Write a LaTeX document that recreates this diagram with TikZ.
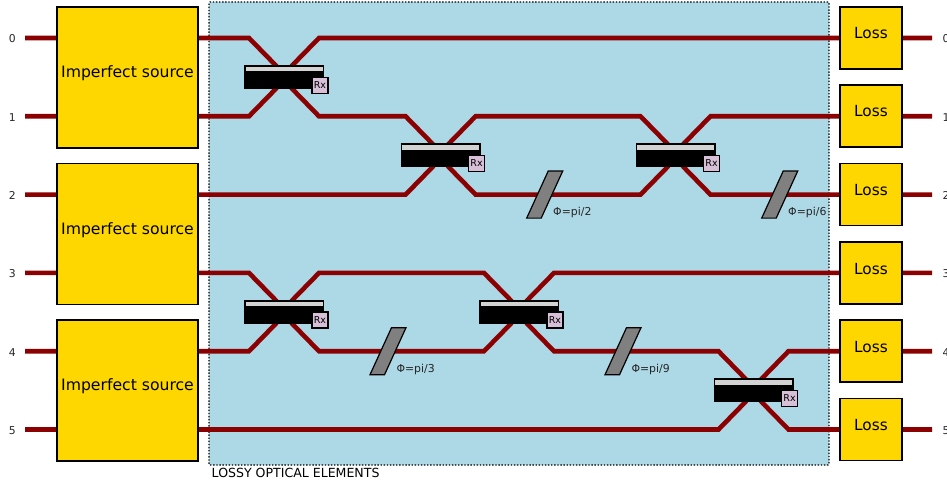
\documentclass[tikz,border=0pt]{standalone}
\usepackage{fontspec}
\setmainfont{DejaVu Sans}
\definecolor{region}{RGB}{173,216,230}
\definecolor{wirered}{RGB}{139,0,0}
\definecolor{boxgold}{RGB}{255,215,0}
\definecolor{rxpink}{RGB}{216,191,216}
\definecolor{barlight}{RGB}{211,211,211}
\definecolor{shifter}{RGB}{128,128,128}
\begin{document}
\begin{tikzpicture}[x=1pt, y=-1pt, font=\fontsize{11}{13}\selectfont,
  lossy/.style={draw=black, dash pattern=on 1.4pt off 1.7pt, line width=1.3pt, fill=region, rounded corners=1pt, minimum width=620pt, minimum height=463pt, inner sep=0pt},
  wire/.style={draw=wirered, line width=4.6pt, line join=miter},
  src/.style={draw=black, line width=1.4pt, fill=boxgold, minimum width=141pt, minimum height=141pt, inner sep=0pt, text height=12pt, text depth=11.5pt, font=\fontsize{15.65}{18}\selectfont},
  lossbox/.style={draw=black, line width=1.4pt, fill=boxgold, minimum width=62pt, minimum height=62pt, inner sep=0pt, text height=12pt, text depth=10pt, font=\fontsize{15.3}{18}\selectfont},
  split/.style={draw=black, line width=1pt, fill=black, minimum width=79pt, minimum height=23pt, inner sep=0pt},
  bar/.style={fill=barlight, minimum width=77pt, minimum height=4.6pt, inner sep=0pt},
  rx/.style={draw=black, line width=1.2pt, fill=rxpink, minimum width=16pt, minimum height=16pt, inner sep=0pt, font=\fontsize{9.5}{11}\selectfont},
  phase/.style={draw=black, line width=1.2pt, fill=shifter, xslant=0.457, minimum width=14.5pt, minimum height=47pt, inner sep=0pt},
  modelab/.style={font=\fontsize{10.8}{12}\selectfont, text=black!85, inner sep=0pt}]
\useasboundingbox (0,0) rectangle (947,481);

\node[lossy] (box) at (519,233.5) {};
\node[anchor=west, inner sep=0pt, font=\fontsize{12.55}{14}\selectfont] (boxname) at (211.5,473) {LOSSY OPTICAL ELEMENTS};

% mode ends
\foreach \m/\y in {0/38,1/116.3,2/194.6,3/272.9,4/351.2,5/429.5} {
  \coordinate (in\m) at (25,\y);
  \coordinate (out\m) at (932,\y);
  \node[modelab] (left\m) at (12.3,\y+1) {\m};
  \node[modelab, anchor=west] (right\m) at (942.5,\y+1) {\m};
}

% beam splitter corners, and the bends hidden behind the black block
\foreach \n/\x/\y in {a/284/77.15,b/440.6/155.45,c/675.5/155.45,d/284/312.05,e/519/312.05,f/753.5/390.35} {
  \coordinate (\n nw) at (\x-35,\y-39.15);
  \coordinate (\n ne) at (\x+35,\y-39.15);
  \coordinate (\n sw) at (\x-35,\y+39.15);
  \coordinate (\n se) at (\x+35,\y+39.15);
  \coordinate (\n 1) at (\x-8,\y-11.5);
  \coordinate (\n 2) at (\x+8,\y-11.5);
  \coordinate (\n 3) at (\x-8,\y+11.5);
  \coordinate (\n 4) at (\x+8,\y+11.5);
}

\draw[wire] (in0) -- (anw) -- (a1) -- (a4) -- (ase) -- (bnw) -- (b1) -- (b4) -- (bse) -- (csw) -- (c3) -- (c2) -- (cne) -- (out1);
\draw[wire] (in1) -- (asw) -- (a3) -- (a2) -- (ane) -- (out0);
\draw[wire] (in2) -- (bsw) -- (b3) -- (b2) -- (bne) -- (cnw) -- (c1) -- (c4) -- (cse) -- (out2);
\draw[wire] (in3) -- (dnw) -- (d1) -- (d4) -- (dse) -- (esw) -- (e3) -- (e2) -- (ene) -- (out3);
\draw[wire] (in4) -- (dsw) -- (d3) -- (d2) -- (dne) -- (enw) -- (e1) -- (e4) -- (ese) -- (fnw) -- (f1) -- (f4) -- (fse) -- (out5);
\draw[wire] (in5) -- (fsw) -- (f3) -- (f2) -- (fne) -- (out4);

\node[src] (src0) at (127.5,77.5) {Imperfect source};
\node[src] (src1) at (127.5,234) {Imperfect source};
\node[src] (src2) at (127.5,390.5) {Imperfect source};

\foreach \m/\y in {0/38,1/116,2/194.5,3/273,4/351,5/429.5} {
  \node[lossbox] (loss\m) at (871,\y) {Loss};
}

% beam splitters
\foreach \n/\x/\y in {a/284/77.15,b/440.6/155.45,c/675.5/155.45,d/284/312.05,e/519/312.05,f/753.5/390.35} {
  \node[split] (\n) at (\x,\y) {};
  \node[bar] (\n bar) at (\x,\y-8) {};
  \node[rx] (\n rx) at (\x+36,\y+8) {Rx};
}

% phase shifters
\foreach \n/\x/\y/\t in {p/544.7/194.6/2,q/779.7/194.6/6,r/388/351.2/3,s/623/351.2/9} {
  \node[phase] (\n) at (\x,\y) {};
  \node[anchor=west, inner sep=0pt, font=\fontsize{10.9}{12}\selectfont, text=black!85] (\n lab) at (\x+8.3,\y+18) {Φ=pi/\t};
}
\end{tikzpicture}
\end{document}
